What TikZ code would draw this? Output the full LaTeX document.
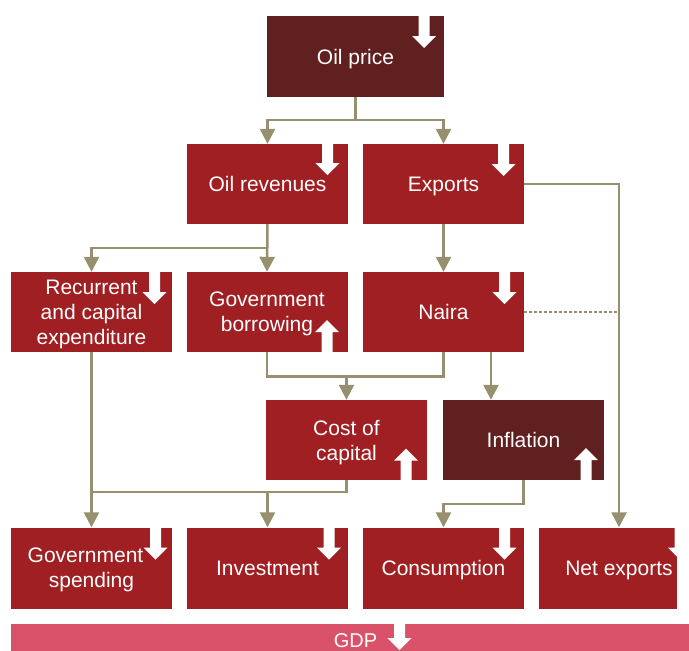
\documentclass[tikz,border=0pt]{standalone}
\usepackage{fontspec}
\setmainfont{Liberation Sans}
\usetikzlibrary{arrows.meta,calc}
\definecolor{boxred}{RGB}{160,31,34}
\definecolor{boxdark}{RGB}{96,32,32}
\definecolor{gdppink}{RGB}{218,82,105}
\definecolor{connc}{RGB}{152,142,112}
% white block arrows: x, y of base, shaft length
\newcommand\wdown[3]{\fill[white] ({#1-5.5},#2) -- ({#1+5.5},#2) -- ({#1+5.5},{#2+#3}) -- ({#1+12},{#2+#3}) -- (#1,{#2+#3+12}) -- ({#1-12},{#2+#3}) -- ({#1-5.5},{#2+#3}) -- cycle;}
\newcommand\wup[3]{\fill[white] ({#1-5.5},#2) -- ({#1+5.5},#2) -- ({#1+5.5},{#2-#3}) -- ({#1+12},{#2-#3}) -- (#1,{#2-#3-12}) -- ({#1-12},{#2-#3}) -- ({#1-5.5},{#2-#3}) -- cycle;}
\begin{document}
\begin{tikzpicture}[x=1pt,y=-1pt,
  box/.style={fill=boxred, text=white, minimum width=161pt, minimum height=80pt,
    inner sep=0pt, align=center, text depth=-3pt, font=\fontsize{21}{25}\selectfont},
  darkbox/.style={box, fill=boxdark},
  conn/.style={draw=connc, line width=2.5pt, -{Triangle[width=15pt,length=15pt]}},
  plain/.style={draw=connc, line width=2.5pt},
  dots/.style={draw=connc, line width=2.5pt, dash pattern=on 2.5pt off 2.5pt}]
\clip (0,0) rectangle (689,651);
\useasboundingbox (0,0) rectangle (689,651);

% boxes
\node[darkbox, minimum width=177pt, minimum height=81pt] (oil) at (355.5,56.5) {Oil price};
\node[box] (rev) at (267.5,184) {Oil revenues};
\node[box] (exp) at (443.5,184) {Exports};
\node[box] (rec) at (91.5,312) {Recurrent\\and capital\\expenditure};
\node[box] (bor) at (267,312) {Government\\borrowing};
\node[box] (nai) at (443.5,312) {Naira};
\node[box] (coc) at (346.5,440) {Cost of\\capital};
\node[darkbox] (inf) at (523.5,440) {Inflation};
\node[box, minimum height=81pt] (gsp) at (91.5,568) {Government\hspace*{12pt}\\spending};
\node[box, minimum height=81pt] (inv) at (267.5,568) {Investment};
\node[box, minimum height=81pt] (con) at (443.5,568) {Consumption};
\node[box, minimum height=81pt, minimum width=138pt] (net) at (608,568) {\hspace*{22pt}Net exports};
\node[box, fill=gdppink, minimum width=678pt, minimum height=34pt, font=\fontsize{20}{24}\selectfont] (gdp) at (350,641) {\hspace*{11pt}GDP};

% connectors
\coordinate (j1) at (355.5,120);
\draw[plain] (oil.south) -- (j1);
\draw[conn] (j1) -| (rev.north);
\draw[conn] (j1) -| (exp.north);

\coordinate (j2) at (267.5,248);
\draw[conn] (rev.south) -- (bor.north);
\draw[conn] (j2) -| (rec.north);

\draw[conn] (exp.south) -- (nai.north);

\coordinate (netin) at ($(net.north)+(11,0)$);
\draw[conn] (exp.east) -| (netin);
\draw[dots] (nai.east) -- (nai.east -| netin);

\coordinate (j3) at (346.5,376.5);
\draw[plain] (bor.south) |- (j3) -| (nai.south);
\draw[conn] (j3) -- (coc.north);

\coordinate (n2) at ($(nai.south)+(47.5,0)$);
\draw[conn] (n2) -- (n2 |- inf.north);

\coordinate (j4) at (267.5,492);
\draw[conn] (rec.south) -- (gsp.north);
\draw[plain] (coc.south) |- (rec.south |- j4);
\draw[conn] (j4) -- (inv.north);

\coordinate (j5) at (443.5,504);
\draw[conn] (inf.south) |- (j5) -- (con.north);

% white trend arrows
\wdown{424}{16}{20}
\wdown{327.5}{144}{19}
\wdown{503.5}{144}{20}
\wdown{154.5}{272}{20}
\wdown{504.5}{272}{20}
\wup{327}{352}{20}
\wup{406}{480.5}{20}
\wup{586}{480}{20}
\wdown{155.5}{527.5}{20}
\wdown{329}{527.5}{20}
\wdown{504.5}{527.5}{20}
\wdown{680}{527.5}{20}
\wdown{399.5}{624}{14}
\end{tikzpicture}
\end{document}
